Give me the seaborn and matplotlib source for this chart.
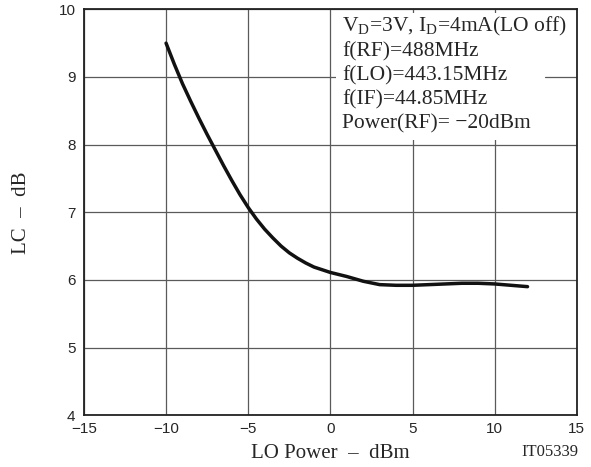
import pandas as pd
import seaborn as sns
import matplotlib.pyplot as plt
from matplotlib.patches import Rectangle

# LO power sweep (dBm) and conversion loss (dB)
lo_power = [-10, -9.5, -9, -8.5, -8, -7.5, -7, -6.5, -6, -5.5, -5, -4.5, -4, -3.5, -3, -2.5,
            -2, -1.5, -1, -0.5, 0, 1, 2, 3, 4, 5, 6, 7, 8, 9, 10, 11, 12]
lc_db = [9.5, 9.19, 8.9, 8.64, 8.39, 8.15, 7.92, 7.69, 7.47, 7.26, 7.07, 6.9, 6.75, 6.62, 6.5,
         6.4, 6.32, 6.25, 6.19, 6.15, 6.11, 6.05, 5.98, 5.93, 5.92, 5.92, 5.93, 5.94, 5.95,
         5.95, 5.94, 5.92, 5.9]

notes = [r'V$_\mathrm{D}$=3V, I$_\mathrm{D}$=4mA(LO off)',
         'f(RF)=488MHz',
         'f(LO)=443.15MHz',
         'f(IF)=44.85MHz',
         'Power(RF)= \u221220dBm']

sns.set_style('white')
plt.rcParams['font.family'] = ['Liberation Serif', 'DejaVu Serif']
plt.rcParams['mathtext.fontset'] = 'custom'
plt.rcParams['mathtext.rm'] = 'Liberation Serif'
plt.rcParams['axes.unicode_minus'] = True

df = pd.DataFrame({'lo': lo_power, 'lc': lc_db})

fig = plt.figure(figsize=(5.91, 4.67), dpi=100)
ax = fig.add_axes([0.142, 0.111, 0.834, 0.869])

ax.set_xlim(-15, 15)
ax.set_ylim(4, 10)
ax.set_xticks(range(-15, 16, 5))
ax.set_yticks(range(4, 11))
ax.grid(True, color='#5a5a5a', linewidth=0.9)
ax.set_axisbelow(True)

sns.lineplot(data=df, x='lo', y='lc', color='#111111', linewidth=2.5, ax=ax, zorder=5)

for lab in ax.get_xticklabels() + ax.get_yticklabels():
    lab.set_family(['Liberation Sans', 'DejaVu Sans'])
    lab.set_fontsize(11)
ax.tick_params(axis='x', length=0, pad=5)
ax.tick_params(axis='y', length=0, pad=6)

for s in ax.spines.values():
    s.set_color('#222222')
    s.set_linewidth(1.3)
    s.set_zorder(6)

ax.set_xlabel('LO Power  \u2013  dBm', fontsize=15, labelpad=6)
ax.set_ylabel('LC  \u2013  dB', fontsize=15, labelpad=20)

# white panel behind the condition notes, grid line at 9 continues past it
ax.add_patch(Rectangle((0.35, 8.07), 14.65, 1.87, facecolor='white', edgecolor='none', zorder=3))
ax.axhline(9, xmin=0.935, xmax=1, color='#5a5a5a', linewidth=0.9, zorder=3.5)

ytop = 9.74
for i, line in enumerate(notes):
    ax.text(0.7, ytop - i * 0.36, line, fontsize=15.5, va='center', ha='left', zorder=4)

fig.text(0.978, 0.015, 'IT05339', fontsize=12, ha='right', va='bottom')

fig.savefig('out.png', dpi=100)
